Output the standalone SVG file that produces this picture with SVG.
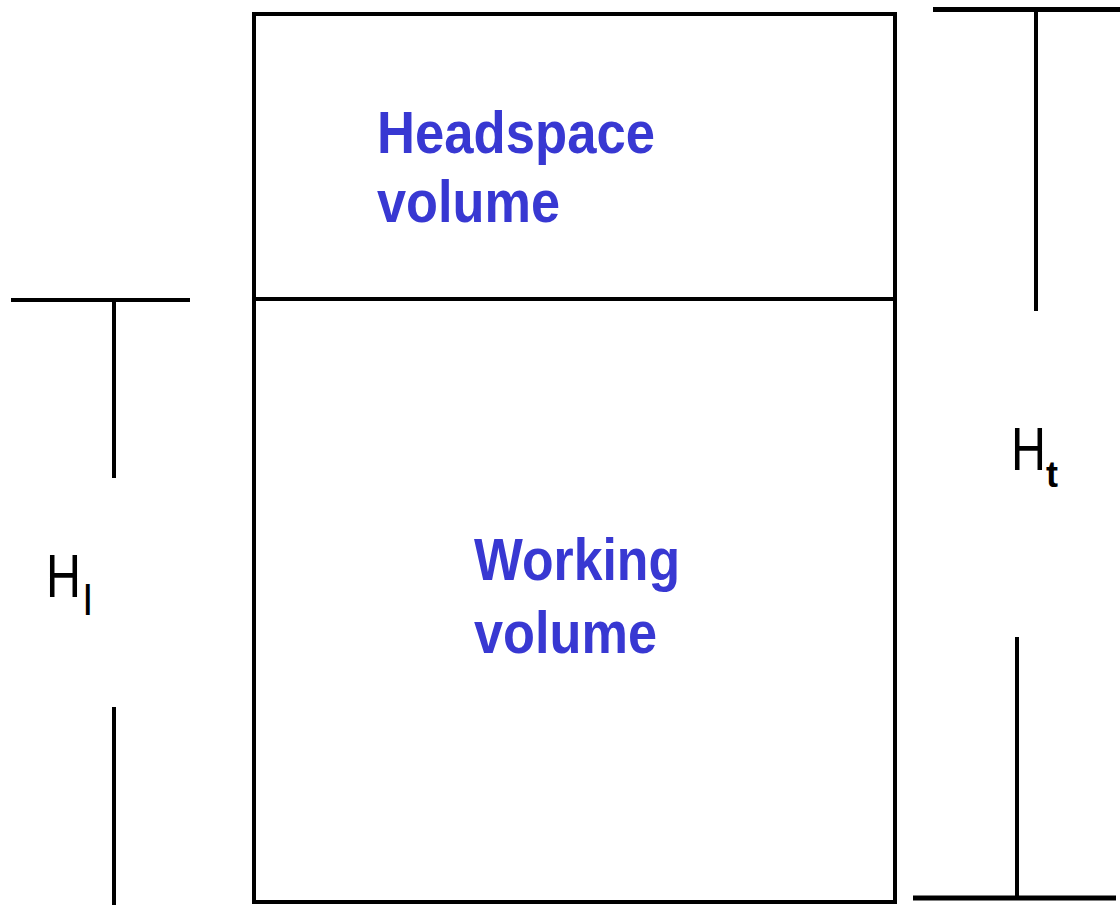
<svg xmlns="http://www.w3.org/2000/svg" width="1120" height="905" viewBox="0 0 1120 905">
<style>
.ln{stroke:#000;stroke-width:4;fill:none}
.lbl{font-family:"Liberation Sans",Arial,sans-serif;font-weight:bold;fill:#3838D2;font-size:60px}
.dim{font-family:"Liberation Sans",Arial,sans-serif;fill:#000;font-size:62px}
</style>
<rect width="1120" height="905" fill="#fff"/>
<g id="vessel">
<rect class="ln" x="254" y="14" width="641" height="888"/>
<line class="ln" x1="254" y1="299" x2="895" y2="299"/>
</g>
<g id="headspace">
<text class="lbl" x="377" y="153" textLength="278" lengthAdjust="spacingAndGlyphs">Headspace</text>
<text class="lbl" x="377" y="222" textLength="183" lengthAdjust="spacingAndGlyphs">volume</text>
</g>
<g id="working">
<text class="lbl" x="474" y="580" textLength="206" lengthAdjust="spacingAndGlyphs">Working</text>
<text class="lbl" x="474" y="653" textLength="183" lengthAdjust="spacingAndGlyphs">volume</text>
</g>
<g id="connectors">
<line class="ln" x1="11" y1="300" x2="190" y2="300"/>
<line class="ln" x1="114" y1="300" x2="114" y2="478"/>
<line class="ln" x1="114" y1="707" x2="114" y2="905"/>
<line class="ln" x1="933" y1="9.5" x2="1120" y2="9.5" style="stroke-width:5"/>
<line class="ln" x1="1036" y1="9" x2="1036" y2="311"/>
<line class="ln" x1="1017" y1="637" x2="1017" y2="898"/>
<line class="ln" x1="913" y1="898" x2="1116" y2="898" style="stroke-width:5"/>
</g>
<g id="label-hl">
<text class="dim" x="46" y="597"><tspan textLength="35" lengthAdjust="spacingAndGlyphs">H</tspan><tspan x="83" y="615" font-size="43">l</tspan></text>
</g>
<g id="label-ht">
<text class="dim" x="1011" y="470"><tspan textLength="35" lengthAdjust="spacingAndGlyphs">H</tspan><tspan x="1046" y="487" font-size="36" font-weight="bold">t</tspan></text>
</g>
</svg>
